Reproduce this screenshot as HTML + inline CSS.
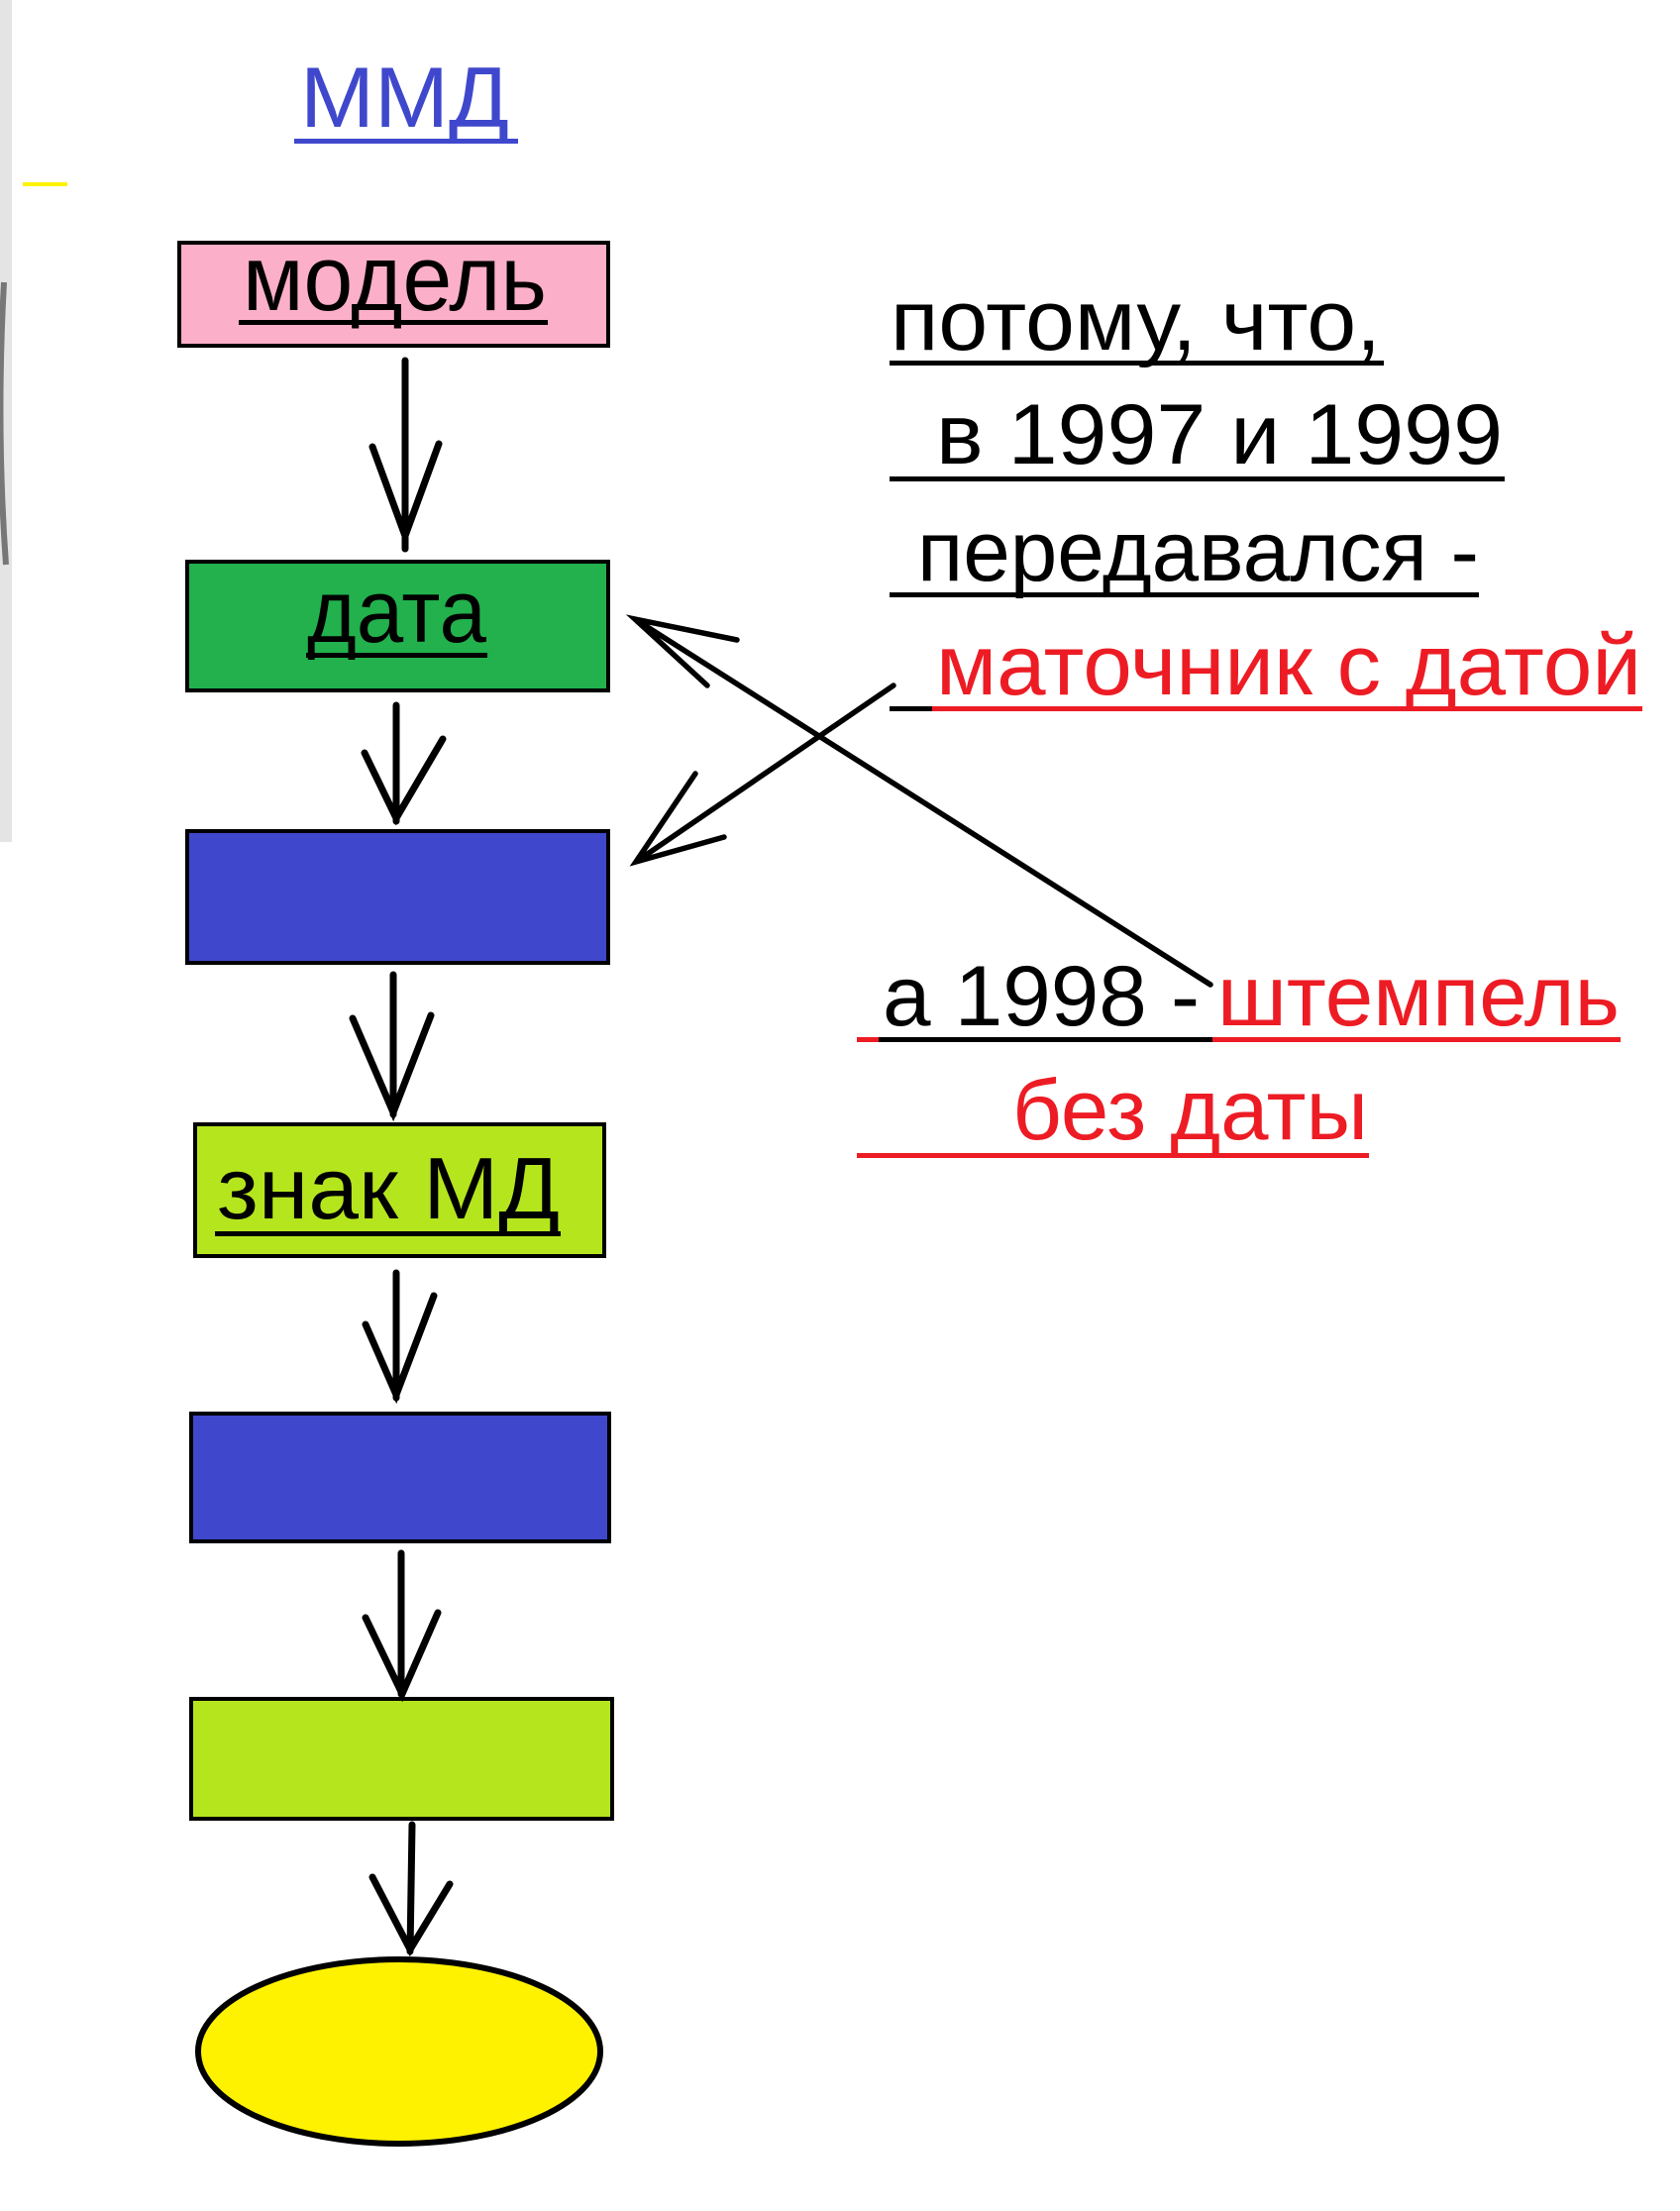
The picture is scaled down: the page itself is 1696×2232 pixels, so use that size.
<!DOCTYPE html>
<html><head><meta charset="utf-8"><style>
html,body{margin:0;padding:0;background:#fff;}
svg{display:block;}
text{font-family:"Liberation Sans","DejaVu Sans",sans-serif;}
</style></head><body>
<svg width="1696" height="2232" viewBox="0 0 1696 2232" xmlns="http://www.w3.org/2000/svg">
<rect x="0" y="0" width="1696" height="2232" fill="#fff"/>
<rect x="0" y="0" width="12" height="850" fill="#e4e4e4"/>
<path d="M4 285 Q-4 430 6 570" stroke="#777" stroke-width="6" fill="none"/>
<rect x="23" y="184" width="45" height="4" fill="#fff200"/>

<text x="303" y="128" font-size="86" fill="#3f48cc" textLength="211" lengthAdjust="spacingAndGlyphs">ММД</text>
<rect x="297" y="140" width="226" height="5" fill="#3f48cc"/>

<g stroke="#000" stroke-width="4">
<rect x="181" y="245" width="433" height="104" fill="#fbafc8"/>
<rect x="189" y="567" width="425" height="130" fill="#22b14c"/>
<rect x="189" y="839" width="425" height="133" fill="#3f48cc"/>
<rect x="197" y="1135" width="413" height="133" fill="#b5e61d"/>
<rect x="193" y="1427" width="422" height="129" fill="#3f48cc"/>
<rect x="193" y="1715" width="425" height="121" fill="#b5e61d"/>
<ellipse cx="403" cy="2071" rx="203" ry="93" fill="#fff200" stroke-width="6"/>
</g>

<text x="245" y="313" font-size="94" textLength="307" lengthAdjust="spacingAndGlyphs">модель</text>
<rect x="241" y="323" width="312" height="5"/>
<text x="310" y="648" font-size="90" textLength="181" lengthAdjust="spacingAndGlyphs">дата</text>
<rect x="309" y="659" width="183" height="5"/>
<text x="219" y="1230" font-size="88" textLength="346" lengthAdjust="spacingAndGlyphs">знак МД</text>
<rect x="217" y="1243" width="349" height="5"/>

<g stroke="#000" stroke-width="7" stroke-linecap="round" fill="none">
<path d="M409 364 L409 554 M376 451 L409 541 L443 448"/>
<path d="M400 712 L400 829 M368 760 L400 826 L447 746"/>
<path d="M397 984 L397 1125 M356 1028 L397 1123 L435 1025"/>
<path d="M400 1285 L400 1411 M369 1337 L400 1408 L438 1308"/>
<path d="M405 1568 L405 1710 M369 1633 L406 1710 L442 1628"/>
<path d="M416 1842 L414 1970 M376 1895 L414 1968 L454 1902"/>
<path d="M1222 994 L641 625 M744 646 L641 625 L714 692" stroke-width="5.5"/>
<path d="M902 692 L642 870 M702 781 L642 870 L731 845" stroke-width="5.5"/>
</g>

<text x="899" y="353" font-size="86" textLength="495" lengthAdjust="spacingAndGlyphs">потому, что,</text>
<rect x="898" y="364" width="499" height="5"/>
<text x="945" y="468" font-size="86" textLength="572" lengthAdjust="spacingAndGlyphs">в  1997 и 1999</text>
<rect x="898" y="481" width="621" height="5"/>
<text x="926" y="586" font-size="86" textLength="567" lengthAdjust="spacingAndGlyphs">передавался -</text>
<rect x="898" y="598" width="595" height="5"/>
<text x="945" y="701" font-size="86" fill="#ed1c24" textLength="712" lengthAdjust="spacingAndGlyphs">маточник с датой</text>
<rect x="898" y="713" width="43" height="5"/>
<rect x="941" y="713" width="717" height="5" fill="#ed1c24"/>

<text x="891" y="1035" font-size="86" textLength="320" lengthAdjust="spacingAndGlyphs">а 1998 -</text>
<text x="1229" y="1035" font-size="86" fill="#ed1c24" textLength="406" lengthAdjust="spacingAndGlyphs">штемпель</text>
<rect x="865" y="1047" width="22" height="5" fill="#ed1c24"/>
<rect x="887" y="1047" width="337" height="5"/>
<rect x="1224" y="1047" width="412" height="5" fill="#ed1c24"/>
<text x="1022" y="1150" font-size="86" fill="#ed1c24" textLength="359" lengthAdjust="spacingAndGlyphs">без даты</text>
<rect x="865" y="1164" width="517" height="5" fill="#ed1c24"/>
</svg>
</body></html>
